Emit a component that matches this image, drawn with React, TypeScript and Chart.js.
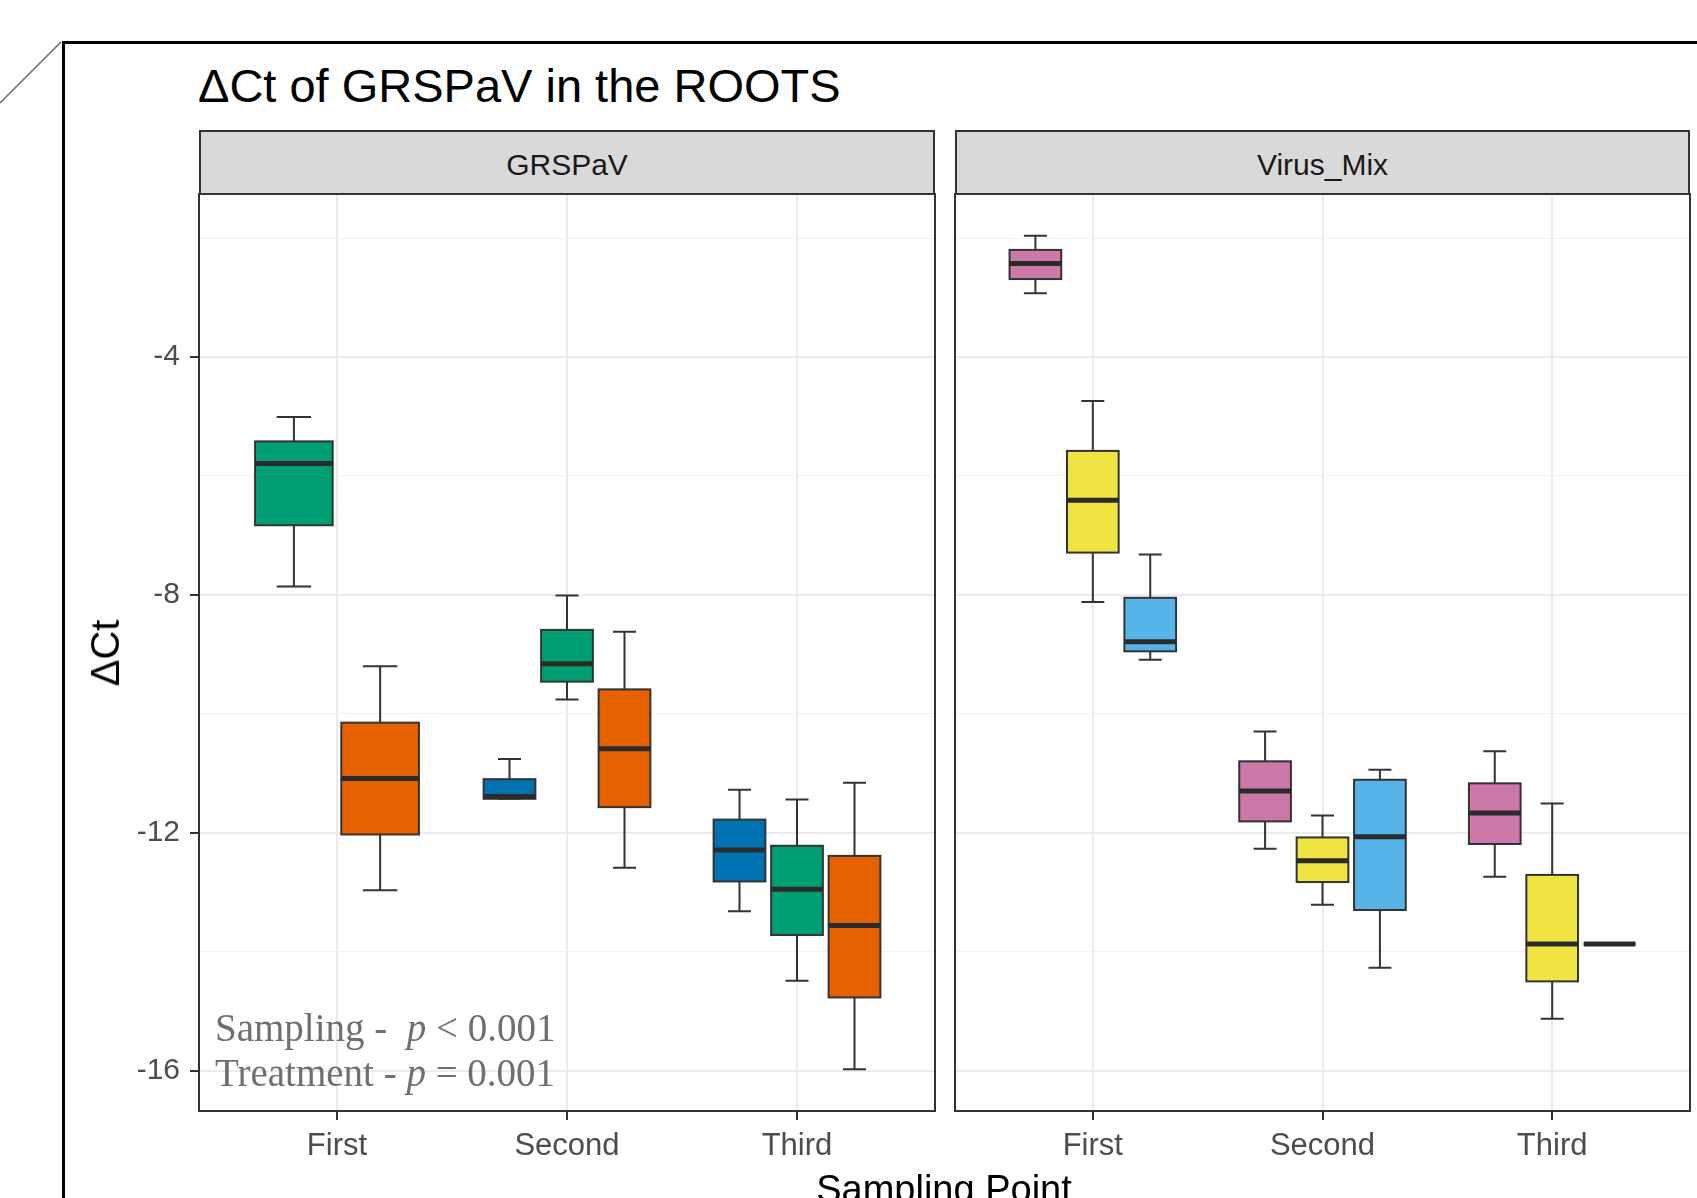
import React, { useEffect, useRef } from 'react';
import { Chart, registerables } from 'chart.js';

Chart.register(...registerables);

// ---------------- data ----------------
const samplingPoints = ['First', 'Second', 'Third'];
const panelNames = ['GRSPaV', 'Virus_Mix'];
const yMajorTicks = [-16, -12, -8, -4];
const yMinorTicks = [-14, -10, -6, -2];
const yMin = -16.68;
const yMax = -1.26;

// five-number summaries per sampling point: [lower whisker, Q1, median, Q3, upper whisker]; null = no box
type Five = [number, number, number, number, number] | null;

// GRSPaV panel
const grspavBlue: Five[] = [
  null,
  [-11.43, -11.43, -11.39, -11.1, -10.76],
  [-13.32, -12.82, -12.29, -11.78, -11.28],
];
const grspavGreen: Five[] = [
  [-7.86, -6.83, -5.79, -5.42, -5.01],
  [-9.76, -9.46, -9.16, -8.59, -8.01],
  [-14.49, -13.72, -12.95, -12.22, -11.44],
];
const grspavOrange: Five[] = [
  [-12.97, -12.03, -11.09, -10.15, -9.2],
  [-12.59, -11.57, -10.59, -9.59, -8.62],
  [-15.98, -14.77, -13.56, -12.39, -11.16],
];

// Virus_Mix panel
const virusPink: Five[] = [
  [-2.93, -2.69, -2.43, -2.2, -1.96],
  [-12.27, -11.81, -11.3, -10.8, -10.3],
  [-12.74, -12.19, -11.67, -11.17, -10.63],
];
const virusYellow: Five[] = [
  [-8.12, -7.29, -6.41, -5.58, -4.74],
  [-13.21, -12.83, -12.47, -12.08, -11.71],
  [-15.13, -14.5, -13.87, -12.71, -11.51],
];
const virusSky: Five[] = [
  [-9.09, -8.95, -8.79, -8.05, -7.32],
  [-14.27, -13.3, -12.07, -11.11, -10.94],
  [-13.87, -13.87, -13.87, -13.87, -13.87],
];

const grspavSeries = [grspavBlue, grspavGreen, grspavOrange];
const grspavColors = ['#0072B2', '#009E73', '#E66100'];
const virusSeries = [virusPink, virusYellow, virusSky];
const virusColors = ['#CC79A7', '#F0E442', '#56B4E9'];

// ---------------- helpers ----------------
const SANS = "'Liberation Sans', Arial, Helvetica, sans-serif";
const SERIF = "'Liberation Serif', 'Times New Roman', serif";
const DODGE = 0.75;

function buildDatasets(series: Five[][], colors: string[]) {
  return series.map((s, si) => {
    const data: any[] = [];
    samplingPoints.forEach((_, c) => {
      const five = s[c];
      if (!five) return;
      const present = series.map((ss, i) => (ss[c] ? i : -1)).filter((i) => i >= 0);
      const n = present.length;
      const k = present.indexOf(si);
      const x = c + 1 + (k - (n - 1) / 2) * (DODGE / n);
      data.push({ x, y: five[2], five, n });
    });
    return {
      label: 'T' + (si + 1),
      data,
      backgroundColor: colors[si],
      borderColor: '#333333',
      pointRadius: 0,
      pointHoverRadius: 0,
    };
  });
}

const boxplotPlugin = {
  id: 'boxplots',
  afterDatasetsDraw(chart: any) {
    const { ctx } = chart;
    const xs = chart.scales.x;
    const ys = chart.scales.y;
    ctx.save();
    chart.data.datasets.forEach((ds: any, d: number) => {
      const meta = chart.getDatasetMeta(d);
      meta.data.forEach((pt: any, i: number) => {
        const raw = ds.data[i];
        const [lo, q1, med, q3, hi] = raw.five.map((v: number) => ys.getPixelForValue(v));
        const xc = pt.x;
        const unit = xs.getPixelForValue(1) - xs.getPixelForValue(0);
        const half = (unit * DODGE * 0.9) / raw.n / 2;
        const capHalf = (unit * 0.3) / raw.n / 2;
        ctx.strokeStyle = '#333333';
        ctx.lineWidth = 2;
        // whiskers
        ctx.beginPath();
        ctx.moveTo(xc, lo);
        ctx.lineTo(xc, q1);
        ctx.moveTo(xc, q3);
        ctx.lineTo(xc, hi);
        ctx.moveTo(xc - capHalf, lo);
        ctx.lineTo(xc + capHalf, lo);
        ctx.moveTo(xc - capHalf, hi);
        ctx.lineTo(xc + capHalf, hi);
        ctx.stroke();
        // box
        ctx.fillStyle = ds.backgroundColor;
        ctx.fillRect(xc - half, q3, half * 2, q1 - q3);
        ctx.strokeRect(xc - half, q3, half * 2, q1 - q3);
        // median
        ctx.lineWidth = 5;
        ctx.strokeStyle = '#2b2b2b';
        ctx.beginPath();
        ctx.moveTo(xc - half, med);
        ctx.lineTo(xc + half, med);
        ctx.stroke();
      });
    });
    ctx.restore();
  },
  afterDraw(chart: any) {
    const { ctx, chartArea } = chart;
    ctx.save();
    ctx.strokeStyle = '#333333';
    ctx.lineWidth = 2;
    ctx.strokeRect(chartArea.left, chartArea.top, chartArea.right - chartArea.left, chartArea.bottom - chartArea.top);
    ctx.restore();
  },
};

const CANVAS_TOP = 190;
const CANVAS_H = 981;

function Panel(props: { series: Five[][]; colors: string[]; showY: boolean; left: number; width: number }) {
  const ref = useRef<HTMLCanvasElement>(null);
  const { series, colors, showY, left, width } = props;
  useEffect(() => {
    const allY = [...yMajorTicks, ...yMinorTicks].sort((a, b) => a - b);
    const chart = new Chart(ref.current as HTMLCanvasElement, {
      type: 'scatter',
      data: { datasets: buildDatasets(series, colors) as any },
      plugins: [boxplotPlugin as any],
      options: {
        responsive: false,
        animation: false,
        events: [],
        layout: { padding: { left: showY ? 0 : 4, right: 4, top: 4, bottom: 0 } },
        plugins: { legend: { display: false }, tooltip: { enabled: false } },
        scales: {
          x: {
            type: 'linear',
            min: 0.4,
            max: 3.6,
            afterBuildTicks: (scale: any) => {
              scale.ticks = samplingPoints.map((_, i) => ({ value: i + 1 }));
            },
            afterFit: (scale: any) => {
              scale.height = 60;
              scale.paddingLeft = 0;
              scale.paddingRight = 0;
            },
            ticks: {
              callback: (v: any) => samplingPoints[Math.round(Number(v)) - 1] ?? '',
              autoSkip: false,
              maxRotation: 0,
              color: '#4D4D4D',
              font: { family: SANS, size: 31 },
              padding: 8,
            },
            grid: {
              color: '#EBEBEB',
              lineWidth: 2,
              drawTicks: true,
              tickLength: 9,
              tickColor: '#333333',
              tickWidth: 2,
            },
            border: { display: false },
          },
          y: {
            type: 'linear',
            min: yMin,
            max: yMax,
            afterBuildTicks: (scale: any) => {
              scale.ticks = allY.map((v) => ({ value: v }));
            },
            afterFit: (scale: any) => {
              scale.width = showY ? 99 : 0;
              scale.paddingTop = 0;
              scale.paddingBottom = 0;
            },
            ticks: {
              display: showY,
              callback: (v: any) => (yMajorTicks.includes(Number(v)) ? String(v) : ''),
              color: '#4D4D4D',
              font: { family: SANS, size: 30 },
              padding: 10,
            },
            grid: {
              color: (c: any) => (yMajorTicks.includes(c.tick?.value) ? '#EBEBEB' : '#F2F2F2'),
              lineWidth: (c: any) => (yMajorTicks.includes(c.tick?.value) ? 2 : 1),
              drawTicks: showY,
              tickLength: 9,
              tickColor: (c: any) => (yMajorTicks.includes(c.tick?.value) ? '#333333' : 'rgba(0,0,0,0)'),
              tickWidth: 2,
            },
            border: { display: false },
          },
        },
      } as any,
    });
    return () => chart.destroy();
  }, []);
  return (
    <canvas
      ref={ref}
      width={width}
      height={CANVAS_H}
      style={{ position: 'absolute', left, top: CANVAS_TOP, display: 'block' }}
    />
  );
}

function Strip(props: { left: number; width: number; label: string }) {
  return (
    <div
      style={{
        position: 'absolute',
        left: props.left,
        top: 130,
        width: props.width,
        height: 65,
        boxSizing: 'border-box',
        border: '2px solid #333333',
        background: '#D9D9D9',
      }}
    >
      <div
        style={{
          position: 'absolute',
          left: 0,
          right: 0,
          top: 18,
          textAlign: 'center',
          fontFamily: SANS,
          fontSize: 30,
          lineHeight: '30px',
          color: '#1A1A1A',
          whiteSpace: 'nowrap',
        }}
      >
        {props.label}
      </div>
    </div>
  );
}

export default function App() {
  return (
    <div
      style={{
        position: 'fixed',
        left: 0,
        top: 0,
        width: '100vw',
        height: '100vh',
        overflow: 'hidden',
        background: '#ffffff',
      }}
    >
      <svg width={80} height={120} style={{ position: 'absolute', left: 0, top: 0 }}>
        <line x1={0} y1={103} x2={61} y2={42} stroke="#666666" strokeWidth={1.5} />
      </svg>
      <div
        style={{
          position: 'absolute',
          left: 62,
          top: 41,
          width: 2000,
          height: 2000,
          borderLeft: '3px solid #000',
          borderTop: '3px solid #000',
        }}
      />
      <div
        style={{
          position: 'absolute',
          left: 198,
          top: 62,
          fontFamily: SANS,
          fontSize: 47,
          lineHeight: '47px',
          color: '#000',
          whiteSpace: 'nowrap',
        }}
      >
        ΔCt of GRSPaV in the ROOTS
      </div>

      <Strip left={199} width={736} label={panelNames[0]} />
      <Strip left={955} width={735} label={panelNames[1]} />

      <Panel series={grspavSeries} colors={grspavColors} showY={true} left={100} width={839} />
      <Panel series={virusSeries} colors={virusColors} showY={false} left={951} width={743} />

      <div
        style={{
          position: 'absolute',
          left: 105,
          top: 653,
          transform: 'translate(-50%, -50%) rotate(-90deg)',
          fontFamily: SANS,
          fontSize: 40,
          lineHeight: '40px',
          color: '#000',
          whiteSpace: 'nowrap',
        }}
      >
        ΔCt
      </div>
      <div
        style={{
          position: 'absolute',
          left: 944,
          top: 1170,
          transform: 'translateX(-50%)',
          fontFamily: SANS,
          fontSize: 38,
          lineHeight: '38px',
          color: '#000',
          whiteSpace: 'nowrap',
        }}
      >
        Sampling Point
      </div>

      <div
        style={{
          position: 'absolute',
          left: 215,
          top: 1008,
          fontFamily: SERIF,
          fontSize: 39,
          lineHeight: '39px',
          color: '#6f6f6f',
          whiteSpace: 'pre',
        }}
      >
        {'Sampling -  '}
        <i>p</i>
        {' < 0.001'}
      </div>
      <div
        style={{
          position: 'absolute',
          left: 215,
          top: 1053,
          fontFamily: SERIF,
          fontSize: 39,
          lineHeight: '39px',
          color: '#6f6f6f',
          whiteSpace: 'pre',
        }}
      >
        {'Treatment - '}
        <i>p</i>
        {' = 0.001'}
      </div>
    </div>
  );
}
